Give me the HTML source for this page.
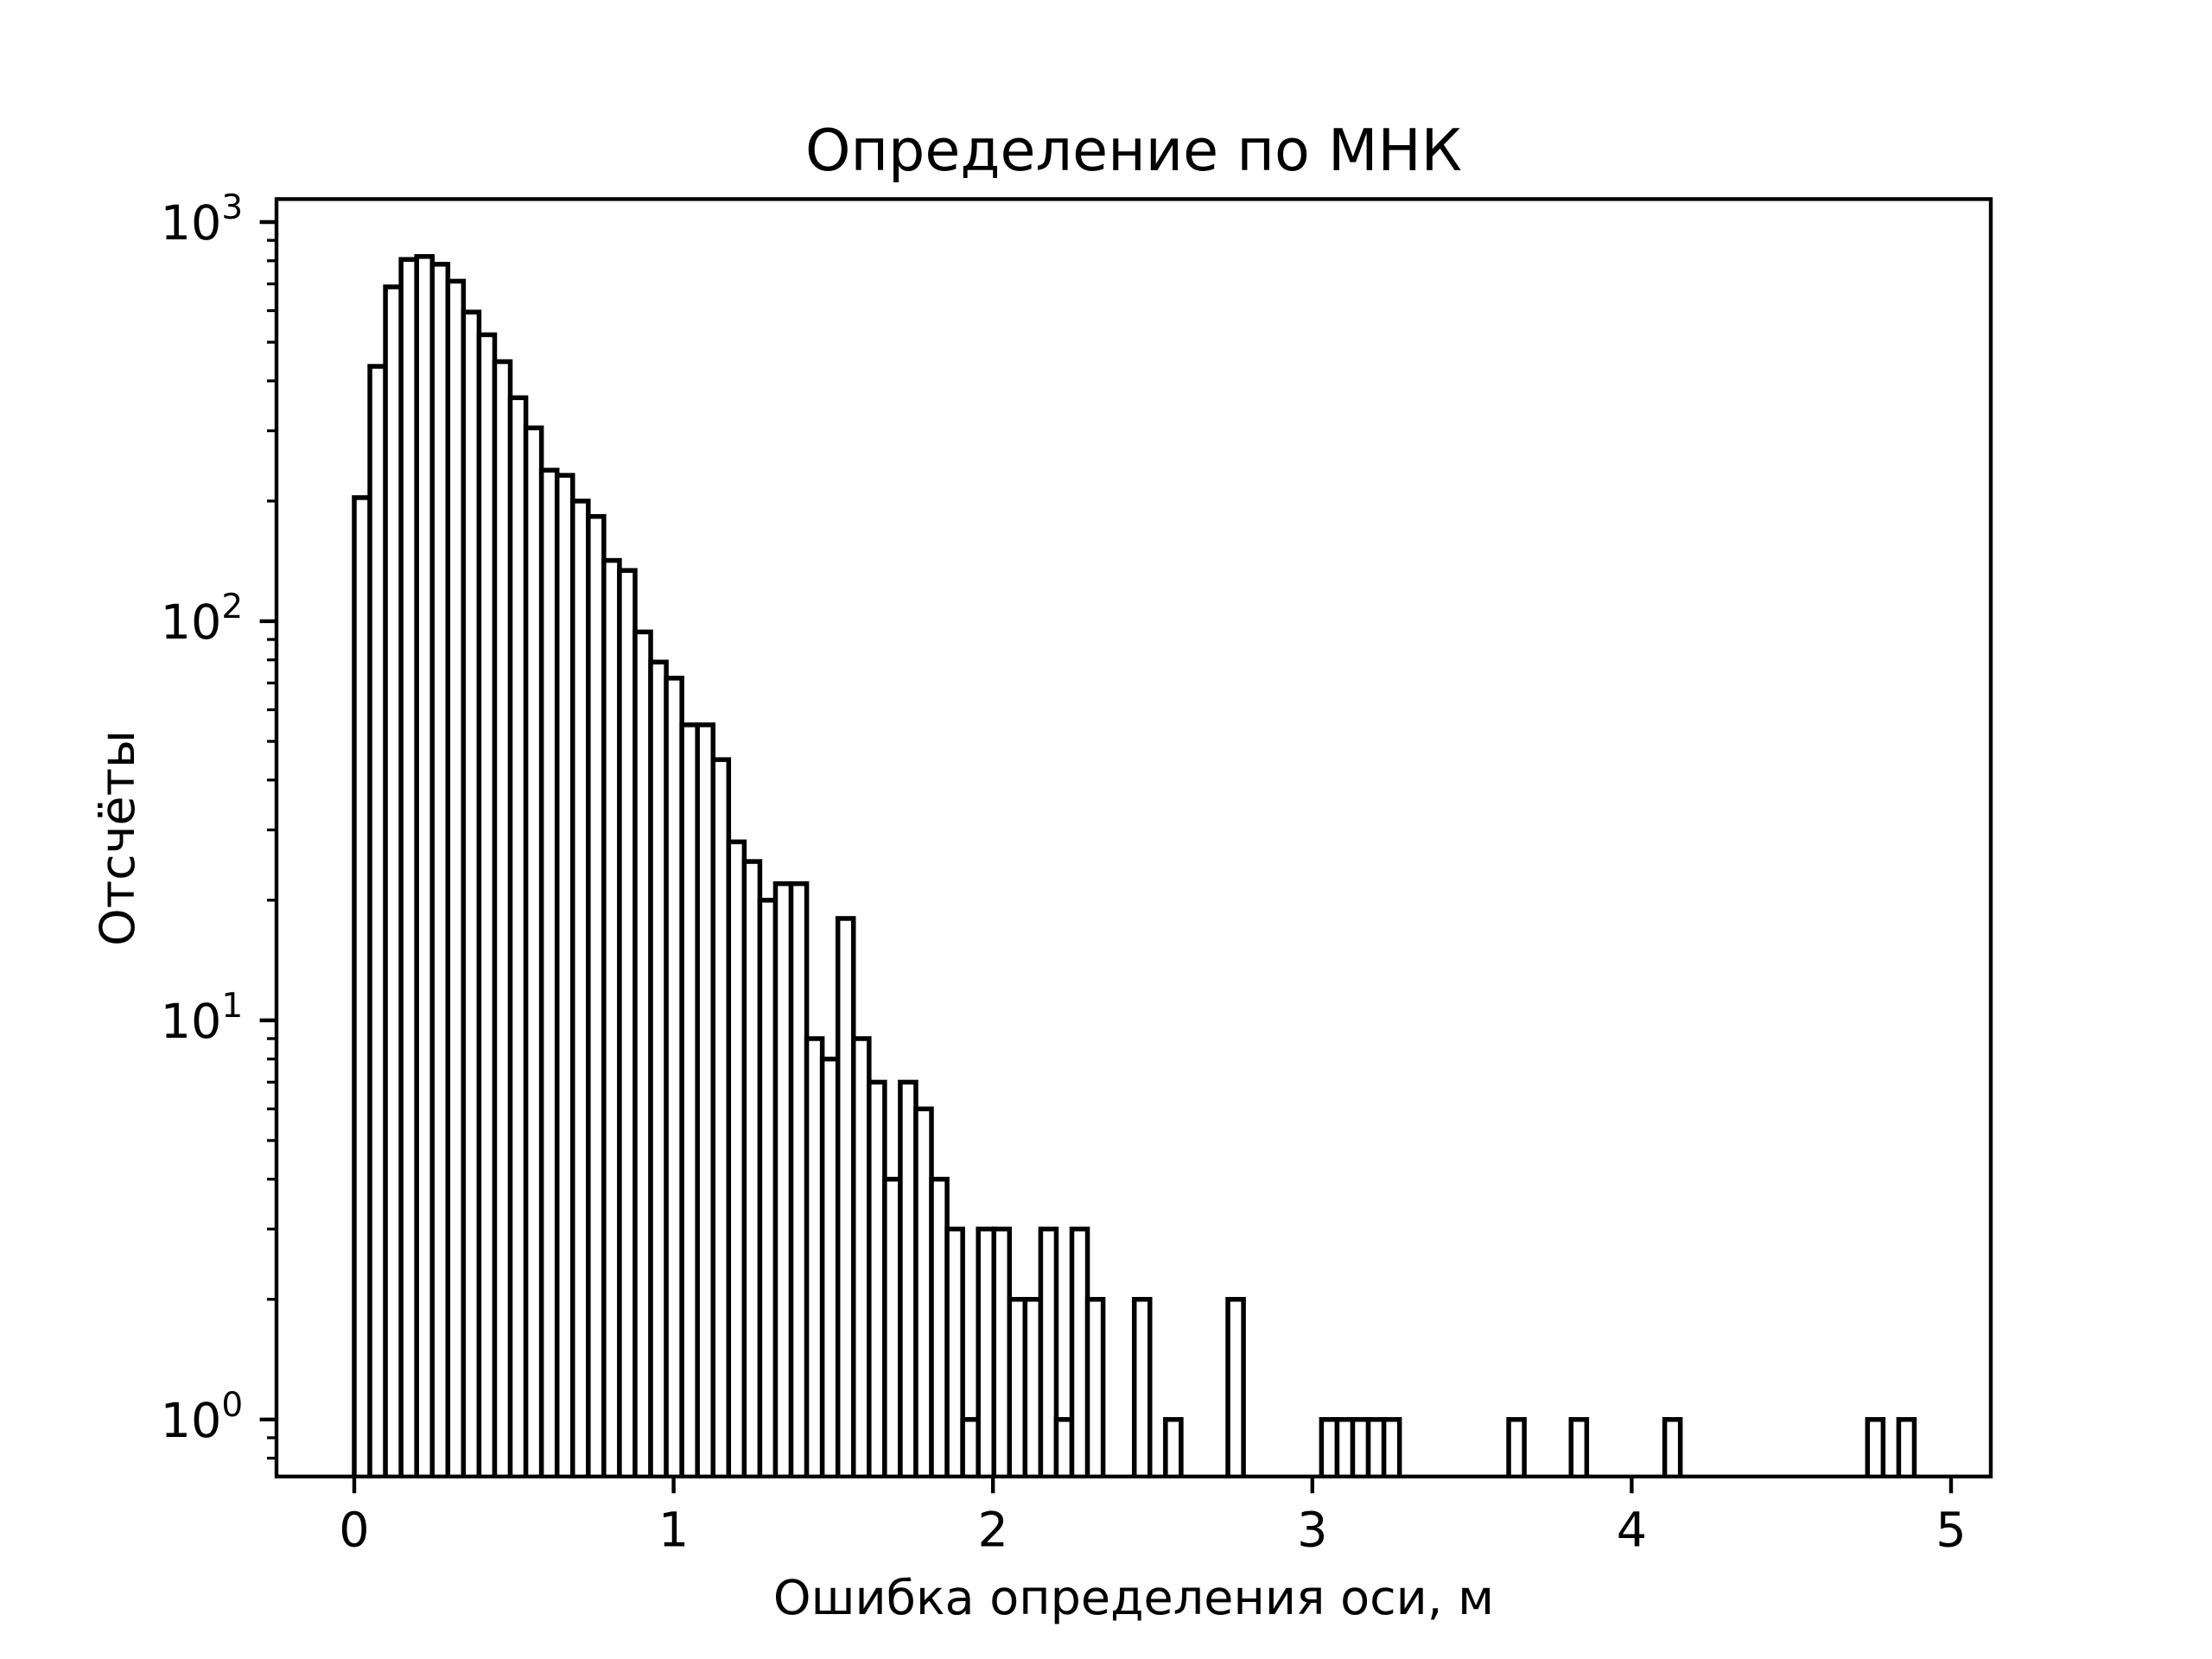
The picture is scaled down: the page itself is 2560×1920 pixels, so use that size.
<!DOCTYPE html>
<html><head><meta charset="utf-8"><style>
html,body{margin:0;padding:0;background:#fff}
svg{display:block}
text{font-family:"DejaVu Sans","Liberation Sans",sans-serif;fill:#000}
</style></head><body>
<svg id="chart" width="2560" height="1920" viewBox="0 0 2560 1920" xmlns="http://www.w3.org/2000/svg">
<rect x="0" y="0" width="2560" height="1920" fill="#fff"/>
<defs><clipPath id="plotclip"><rect x="320" y="230.4" width="1984" height="1478.4"/></clipPath></defs>
<g id="bars" clip-path="url(#plotclip)"></g>
<g id="ticks"></g>
<rect x="320" y="230.4" width="1984" height="1478.4" fill="none" stroke="#000" stroke-width="4.4"/>
<text x="1312" y="197" font-size="66.7" text-anchor="middle">Определение по МНК</text>
<text x="1312" y="1868" font-size="55.6" text-anchor="middle">Ошибка определения оси, м</text>
<text x="0" y="0" font-size="55.6" text-anchor="middle" transform="translate(155,970) rotate(-90)">Отсчёты</text>
</svg>
<script>
const binMin = 0;
const binMax = 4.885;
const counts = [204,435,688,806,820,784,711,595,522,447,363,305,239,232,200,183,142,134,94,79,72,55,55,45,
28,25,20,22,22,9,8,18,9,7,4,7,6,4,3,1,3,3,2,2,3,1,3,2,
0,0,2,0,1,0,0,0,2,0,0,0,0,0,
1,1,1,1,1,
0,0,0,0,0,0,0,
1,0,0,0,1,0,0,0,0,0,1,
0,0,0,0,0,0,0,0,0,0,0,0,
1,0,1];
const xTicks = [0,1,2,3,4,5];
const xTickLabels = ["0","1","2","3","4","5"];
const yDecades = [0,1,2,3];
const xDomain = [-0.2435, 5.1245];
const yLogDomain = [-0.1429, 3.0576];

const L=320,R=2304,T=230.4,B=1708.8;
function xs(v){return L+(v-xDomain[0])/(xDomain[1]-xDomain[0])*(R-L);}
function ys(v){const lv=Math.log10(v);return B-(lv-yLogDomain[0])/(yLogDomain[1]-yLogDomain[0])*(B-T);}
const NS="http://www.w3.org/2000/svg";
const barsG=document.getElementById('bars');
const ticksG=document.getElementById('ticks');
const n=counts.length, w=(binMax-binMin)/n;
counts.forEach((c,i)=>{
  if(c<=0)return;
  const x0=xs(binMin+i*w), x1=xs(binMin+(i+1)*w), y=ys(c);
  const r=document.createElementNS(NS,'rect');
  r.setAttribute('x',x0);r.setAttribute('y',y);
  r.setAttribute('width',x1-x0);r.setAttribute('height',B+40-y);
  r.setAttribute('fill','#fff');r.setAttribute('stroke','#000');r.setAttribute('stroke-width','5.5');
  
  
  barsG.appendChild(r);
});
function line(x1,y1,x2,y2,sw,name){
  const l=document.createElementNS(NS,'line');
  l.setAttribute('x1',x1);l.setAttribute('y1',y1);l.setAttribute('x2',x2);l.setAttribute('y2',y2);
  l.setAttribute('stroke','#000');l.setAttribute('stroke-width',sw);
  
  
  ticksG.appendChild(l);
}
xTicks.forEach((t,i)=>{
  const x=xs(t);
  line(x,B,x,B+19.4,4.4,'x-tick-'+t);
  const tx=document.createElementNS(NS,'text');
  tx.setAttribute('x',x);tx.setAttribute('y',B+19.4+19.4+42);
  tx.setAttribute('font-size','55.6');tx.setAttribute('text-anchor','middle');
  tx.textContent=xTickLabels[i];
  
  
  ticksG.appendChild(tx);
});
yDecades.forEach(d=>{
  const y=ys(Math.pow(10,d));
  line(L-19.4,y,L,y,4.4,'y-tick-1e'+d);
  const tx=document.createElementNS(NS,'text');
  tx.setAttribute('x',L-19.4-19.4);tx.setAttribute('y',y+20);
  tx.setAttribute('font-size','55.6');tx.setAttribute('text-anchor','end');
  const a=document.createElementNS(NS,'tspan');a.textContent='10';
  const b=document.createElementNS(NS,'tspan');b.textContent=String(d);
  b.setAttribute('font-size','39');b.setAttribute('dy','-24');
  tx.appendChild(a);tx.appendChild(b);
  
  
  ticksG.appendChild(tx);
});
for(let d=-1;d<=3;d++){
  for(let m=2;m<=9;m++){
    const v=m*Math.pow(10,d), lv=Math.log10(v);
    if(lv<yLogDomain[0]||lv>yLogDomain[1])continue;
    const y=ys(v);
    line(L-11,y,L,y,3.3,'y-minor-tick');
  }
}
</script>
</body></html>
